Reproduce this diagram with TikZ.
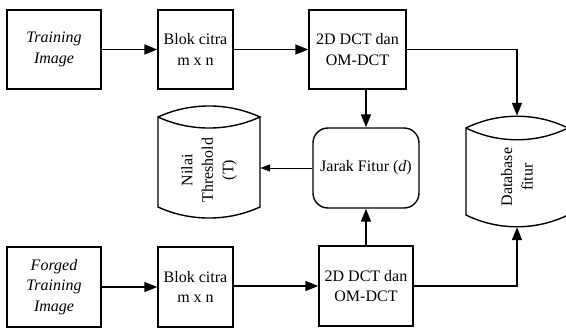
\documentclass[tikz,border=0pt]{standalone}
\usepackage{fontspec}
\setmainfont{Liberation Serif}
\usetikzlibrary{arrows.meta}
\begin{document}
\begin{tikzpicture}[x=1pt,y=-1pt,
  every node/.style={font=\fontsize{16}{20.5}\selectfont, align=center},
  box/.style={draw, line width=1.4pt, inner sep=0pt},
  flow/.style={line width=1.6pt, -{Triangle[length=13pt,width=10pt]}},
  thin flow/.style={line width=0.9pt, -{Triangle[length=10pt,width=7pt]}},
  ghost/.style={inner sep=0pt}
]
\useasboundingbox (0,0) rectangle (566,330);
% boxes
\node[box, minimum width=94pt, minimum height=79pt] (train) at (54,49.5) {\itshape Training\\\itshape Image};
\node[box, minimum width=75pt, minimum height=79pt] (blok1) at (195.5,49.5) {Blok citra\\m x n};
\node[box, minimum width=97pt, minimum height=79pt] (dct1) at (357.5,49.5) {2D DCT dan\\OM-DCT};
\node[box, minimum width=94pt, minimum height=80pt] (forged) at (54,287) {\itshape Forged\\\itshape Training\\\itshape Image};
\node[box, minimum width=75pt, minimum height=80pt] (blok2) at (195.5,287) {Blok citra\\m x n};
\node[box, minimum width=94pt, minimum height=80pt] (dct2) at (366,286) {2D DCT dan\\OM-DCT};
\node[box, rounded corners=15pt, minimum width=106pt, minimum height=80pt] (jarak) at (366,168) {Jarak Fitur (\textit{d})};
% cylinders
\draw[line width=1.4pt] (158,117) .. controls (190,102.3) and (228,102.3) .. (260,117)
  .. controls (228,131.7) and (190,131.7) .. (158,117) -- (158,207)
  .. controls (190,221.7) and (228,221.7) .. (260,207) -- (260,117);
\node[ghost, minimum width=102pt, minimum height=112pt] (nilai) at (209,162) {};
\node[rotate=90] (nilaitxt) at (209,170) {Nilai\\Threshold\\(T)};
\draw[line width=1.4pt] (466,128) .. controls (498,112.3) and (536,112.3) .. (568,128)
  .. controls (536,143.7) and (498,143.7) .. (466,128) -- (466,215)
  .. controls (498,230.7) and (536,230.7) .. (568,215) -- (568,128);
\node[ghost, minimum width=102pt, minimum height=111pt] (db) at (517,171.5) {};
\node[rotate=90] (dbtxt) at (517,177) {Database\\fitur};
% connectors
\draw[flow] (train) -- (blok1);
\draw[flow] (blok1) -- (dct1);
\draw[flow] (dct1.east) -| (db.north);
\draw[flow] (jarak.north |- dct1.south) -- (jarak.north);
\draw[thin flow] (jarak.west) -- (jarak.west -| nilai.east);
\draw[flow] (forged.east |- blok2.west) -- (blok2.west);
\draw[flow] (blok2.east |- dct2.west) -- (dct2.west);
\draw[flow] (dct2.north) -- (jarak.south);
\draw[flow] (dct2.east) -| (db.south);
\end{tikzpicture}
\end{document}
